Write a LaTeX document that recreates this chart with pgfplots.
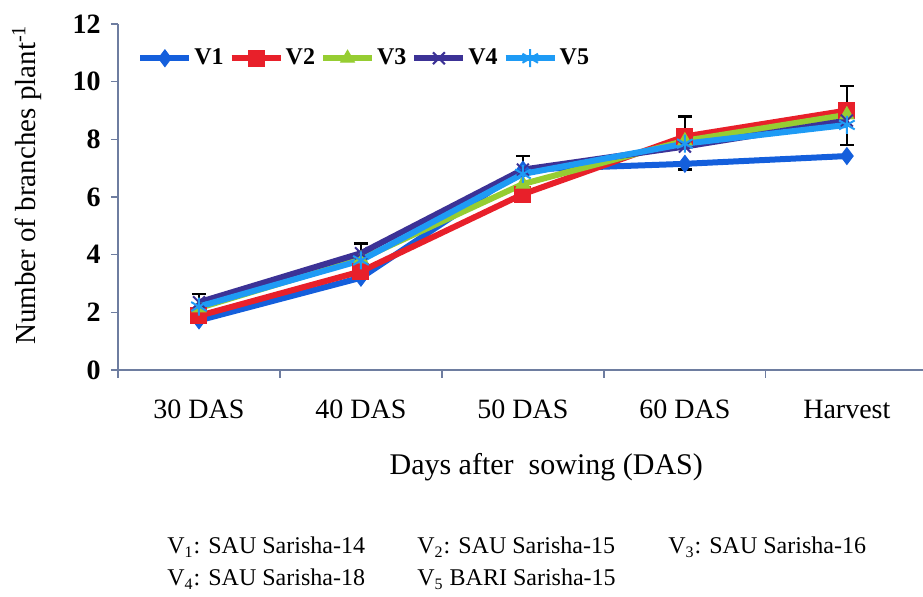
\documentclass[border=0pt]{standalone}
\usepackage{fontspec}
\setmainfont{Liberation Serif}
\usepackage{pgfplots}
\pgfplotsset{compat=1.18}
\definecolor{cV1}{RGB}{20,95,220}
\definecolor{cV2}{RGB}{232,32,42}
\definecolor{cV3}{RGB}{150,205,50}
\definecolor{cV4}{RGB}{60,50,150}
\definecolor{cV5}{RGB}{30,155,245}
\definecolor{axiscol}{RGB}{110,125,160}
\begin{document}
\begin{tikzpicture}
\useasboundingbox (-59pt,-113.5pt) rectangle (402.5pt,185pt);
\begin{axis}[
  at={(0,0)}, anchor=south west,
  scale only axis, width=402.5pt, height=173pt,
  xmin=-0.5, xmax=4.47, ymin=0, ymax=12,
  axis lines*=left,
  axis line style={draw=axiscol, line width=0.6pt},
  tick align=outside,
  tick style={draw=axiscol, line width=0.6pt},
  major tick length=3.5pt, minor tick length=4pt,
  xtick={0,1,2,3,4},
  xticklabels={30 DAS,40 DAS,50 DAS,60 DAS,Harvest},
  major x tick style={draw=none},
  minor xtick={-0.5,0.5,1.5,2.5,3.5},
  ytick={0,2,4,6,8,10,12},
  /pgf/number format/assume math mode=true,
  yticklabel style={font=\bfseries\fontsize{14}{16}\selectfont, anchor=east, inner sep=0pt, xshift=-5pt},
  xticklabel style={font=\fontsize{14}{16}\selectfont, anchor=base, inner sep=0pt, yshift=-21pt},
  xlabel={Days after\ \ sowing (DAS)},
  ylabel={Number of branches plant\textsuperscript{-1}},
  every axis x label/.style={at={(axis description cs:0.532,0)}, anchor=center, yshift=-48.5pt, font=\fontsize{15}{17}\selectfont},
  every axis y label/.style={at={(axis description cs:-0.113,0.535)}, anchor=center, rotate=90, font=\fontsize{14.5}{17}\selectfont},
  clip=false,
  legend columns=-1,
  legend style={draw=none, fill=none, inner sep=0pt, at={(axis description cs:0.0236,0.901)}, anchor=west,
    font=\bfseries\fontsize{12}{14}\selectfont,
    nodes={inner sep=1pt},
    /tikz/every even column/.append style={column sep=1.5pt}},
  legend image code/.code={\draw[mark repeat=2,mark phase=2] plot coordinates {(0pt,0pt) (12.25pt,0pt) (24.5pt,0pt)};},
]
% error bars (upper)
\addplot[draw=none, mark=none, forget plot,
  error bars/.cd, y dir=plus, y explicit,
  error bar style={draw=black, line width=1.3pt},
  error mark options={rotate=90, mark size=3.5pt, draw=black, line width=1.3pt}]
  coordinates {(0,2.4) +- (0,0.24) (1,4.05) +- (0,0.34) (2,7.0) +- (0,0.42) (3,8.1) +- (0,0.7) (4,9.0) +- (0,0.85)};
% error bars (lower)
\addplot[draw=none, mark=none, forget plot,
  error bars/.cd, y dir=minus, y explicit,
  error bar style={draw=black, line width=1.3pt},
  error mark options={rotate=90, mark size=3.5pt, draw=black, line width=1.3pt}]
  coordinates {(2,6.1) +- (0,0.26) (3,7.15) +- (0,0.2) (4,8.5) +- (0,0.7)};

\addplot[cV1, line width=3pt, mark=diamond*, mark size=4.2pt, mark options={solid, fill=cV1, line width=0.5pt}]
  coordinates {(0,1.72) (1,3.2) (2,6.95) (3,7.15) (4,7.42)};
\addlegendentry{V1}
\addplot[cV2, line width=3pt, mark=square*, mark size=4pt, mark options={solid, fill=cV2, line width=0.5pt}]
  coordinates {(0,1.88) (1,3.42) (2,6.1) (3,8.1) (4,9.0)};
\addlegendentry{V2}
\addplot[cV3, line width=3pt, mark=triangle*, mark size=4pt, mark options={solid, fill=cV3, line width=0.5pt}]
  coordinates {(0,2.15) (1,3.85) (2,6.45) (3,7.95) (4,8.85)};
\addlegendentry{V3}
\addplot[cV4, line width=3pt, mark=x, mark size=4.2pt, mark options={solid, line width=1pt}]
  coordinates {(0,2.35) (1,4.05) (2,6.95) (3,7.75) (4,8.65)};
\addlegendentry{V4}
\addplot[cV5, line width=3pt, mark=asterisk, mark size=4.5pt, mark options={solid, line width=1pt}]
  coordinates {(0,2.2) (1,3.8) (2,6.8) (3,7.85) (4,8.5)};
\addlegendentry{V5}
\end{axis}
\begin{scope}[every node/.style={anchor=base west, inner sep=0pt, font=\fontsize{12}{15}\selectfont}]
\node at (24.5pt,-92pt) {V\textsubscript{1}: SAU Sarisha-14};
\node at (149.5pt,-92pt) {V\textsubscript{2}: SAU Sarisha-15};
\node at (275pt,-92pt) {V\textsubscript{3}: SAU Sarisha-16};
\node at (24.5pt,-108pt) {V\textsubscript{4}: SAU Sarisha-18};
\node at (149.5pt,-108pt) {V\textsubscript{5} BARI Sarisha-15};
\end{scope}
\end{tikzpicture}
\end{document}
